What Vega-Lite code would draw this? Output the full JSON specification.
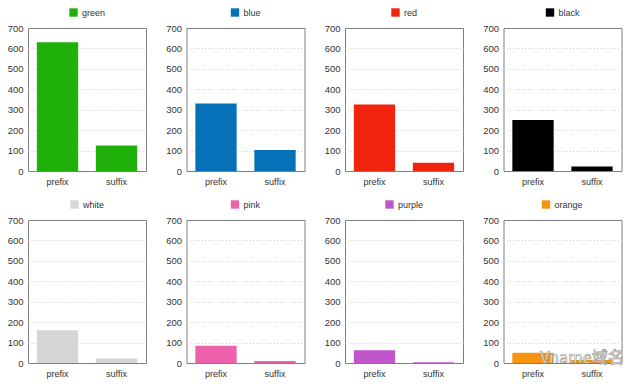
{"$schema":"https://vega.github.io/schema/vega-lite/v6.json","padding":{"left":6,"top":7,"right":0,"bottom":0},"autosize":{"type":"pad"},"background":"white","spacing":{"row":12,"column":17.5},"columns":4,"datasets":{"d":[
{"group":"green","k":"prefix","v":630},{"group":"green","k":"suffix","v":125},
{"group":"blue","k":"prefix","v":330},{"group":"blue","k":"suffix","v":103},
{"group":"red","k":"prefix","v":325},{"group":"red","k":"suffix","v":40},
{"group":"black","k":"prefix","v":250},{"group":"black","k":"suffix","v":22},
{"group":"white","k":"prefix","v":160},{"group":"white","k":"suffix","v":22},
{"group":"pink","k":"prefix","v":85},{"group":"pink","k":"suffix","v":10},
{"group":"purple","k":"prefix","v":62},{"group":"purple","k":"suffix","v":4},
{"group":"orange","k":"prefix","v":50},{"group":"orange","k":"suffix","v":15}],
"w":[{"k":"suffix","v":25,"label":"Vname域名"}]},
"concat":[
{"width":118,"height":143,"data":{"name":"d"},"transform":[{"filter":"datum.group==='green'"}],"mark":{"type":"bar"},"encoding":{"x":{"field":"k","type":"nominal","axis":{"title":null,"labelAngle":0},"scale":{"paddingInner":0.3,"paddingOuter":0.15}},"y":{"field":"v","type":"quantitative","scale":{"domain":[0,700]},"axis":{"title":null,"values":[0,100,200,300,400,500,600,700],"gridOpacity":{"condition":{"test":"datum.value===0||datum.value===700","value":0},"value":1}}},"color":{"field":"group","type":"nominal","scale":{"range":["#1fb00a"]},"legend":{"title":null}}}},
{"width":118,"height":143,"data":{"name":"d"},"transform":[{"filter":"datum.group==='blue'"}],"mark":{"type":"bar"},"encoding":{"x":{"field":"k","type":"nominal","axis":{"title":null,"labelAngle":0},"scale":{"paddingInner":0.3,"paddingOuter":0.15}},"y":{"field":"v","type":"quantitative","scale":{"domain":[0,700]},"axis":{"title":null,"values":[0,100,200,300,400,500,600,700],"gridOpacity":{"condition":{"test":"datum.value===0||datum.value===700","value":0},"value":1}}},"color":{"field":"group","type":"nominal","scale":{"range":["#0670b8"]},"legend":{"title":null}}}},
{"width":118,"height":143,"data":{"name":"d"},"transform":[{"filter":"datum.group==='red'"}],"mark":{"type":"bar"},"encoding":{"x":{"field":"k","type":"nominal","axis":{"title":null,"labelAngle":0},"scale":{"paddingInner":0.3,"paddingOuter":0.15}},"y":{"field":"v","type":"quantitative","scale":{"domain":[0,700]},"axis":{"title":null,"values":[0,100,200,300,400,500,600,700],"gridOpacity":{"condition":{"test":"datum.value===0||datum.value===700","value":0},"value":1}}},"color":{"field":"group","type":"nominal","scale":{"range":["#f0230d"]},"legend":{"title":null}}}},
{"width":118,"height":143,"data":{"name":"d"},"transform":[{"filter":"datum.group==='black'"}],"mark":{"type":"bar"},"encoding":{"x":{"field":"k","type":"nominal","axis":{"title":null,"labelAngle":0},"scale":{"paddingInner":0.3,"paddingOuter":0.15}},"y":{"field":"v","type":"quantitative","scale":{"domain":[0,700]},"axis":{"title":null,"values":[0,100,200,300,400,500,600,700],"gridOpacity":{"condition":{"test":"datum.value===0||datum.value===700","value":0},"value":1}}},"color":{"field":"group","type":"nominal","scale":{"range":["#000000"]},"legend":{"title":null}}}},
{"width":118,"height":143,"data":{"name":"d"},"transform":[{"filter":"datum.group==='white'"}],"mark":{"type":"bar"},"encoding":{"x":{"field":"k","type":"nominal","axis":{"title":null,"labelAngle":0},"scale":{"paddingInner":0.3,"paddingOuter":0.15}},"y":{"field":"v","type":"quantitative","scale":{"domain":[0,700]},"axis":{"title":null,"values":[0,100,200,300,400,500,600,700],"gridOpacity":{"condition":{"test":"datum.value===0||datum.value===700","value":0},"value":1}}},"color":{"field":"group","type":"nominal","scale":{"range":["#d6d6d6"]},"legend":{"title":null}}}},
{"width":118,"height":143,"data":{"name":"d"},"transform":[{"filter":"datum.group==='pink'"}],"mark":{"type":"bar"},"encoding":{"x":{"field":"k","type":"nominal","axis":{"title":null,"labelAngle":0},"scale":{"paddingInner":0.3,"paddingOuter":0.15}},"y":{"field":"v","type":"quantitative","scale":{"domain":[0,700]},"axis":{"title":null,"values":[0,100,200,300,400,500,600,700],"gridOpacity":{"condition":{"test":"datum.value===0||datum.value===700","value":0},"value":1}}},"color":{"field":"group","type":"nominal","scale":{"range":["#ee62ad"]},"legend":{"title":null}}}},
{"width":118,"height":143,"data":{"name":"d"},"transform":[{"filter":"datum.group==='purple'"}],"mark":{"type":"bar"},"encoding":{"x":{"field":"k","type":"nominal","axis":{"title":null,"labelAngle":0},"scale":{"paddingInner":0.3,"paddingOuter":0.15}},"y":{"field":"v","type":"quantitative","scale":{"domain":[0,700]},"axis":{"title":null,"values":[0,100,200,300,400,500,600,700],"gridOpacity":{"condition":{"test":"datum.value===0||datum.value===700","value":0},"value":1}}},"color":{"field":"group","type":"nominal","scale":{"range":["#bf57ca"]},"legend":{"title":null}}}},
{"width":118,"height":143,"encoding":{"x":{"field":"k","type":"nominal","axis":{"title":null,"labelAngle":0},"scale":{"domain":["prefix","suffix"],"paddingInner":0.3,"paddingOuter":0.15}},"y":{"field":"v","type":"quantitative","scale":{"domain":[0,700]},"axis":{"title":null,"values":[0,100,200,300,400,500,600,700],"gridOpacity":{"condition":{"test":"datum.value===0||datum.value===700","value":0},"value":1}}}},"layer":[
{"data":{"name":"d"},"transform":[{"filter":"datum.group==='orange'"}],"mark":{"type":"bar"},"encoding":{"color":{"field":"group","type":"nominal","scale":{"range":["#f7940f"]},"legend":{"title":null}}}},
{"data":{"name":"w"},"mark":{"type":"text","font":"Noto Sans CJK SC","fontSize":16,"fill":"white","stroke":"#8f8f8f","strokeWidth":0.6,"dx":-10},"encoding":{"text":{"field":"label"}}}
]}
],
"resolve":{"scale":{"color":"independent"},"legend":{"color":"independent"}},
"config":{"font":"Liberation Sans","view":{"stroke":"#7f7f7f","strokeWidth":1},
"axisY":{"domain":false,"ticks":false,"grid":true,"gridColor":"#cfcfcf","gridDash":[1,2],"labelFontSize":9.5,"labelColor":"#333333","labelPadding":5},
"axisX":{"domain":false,"ticks":false,"grid":false,"labelFontSize":9,"labelColor":"#333333","labelPadding":6},
"legend":{"orient":"top","symbolType":"square","symbolSize":70,"labelFontSize":9,"labelColor":"#333333","symbolStrokeWidth":0,"offset":10,"layout":{"top":{"anchor":"middle"}}}}}
